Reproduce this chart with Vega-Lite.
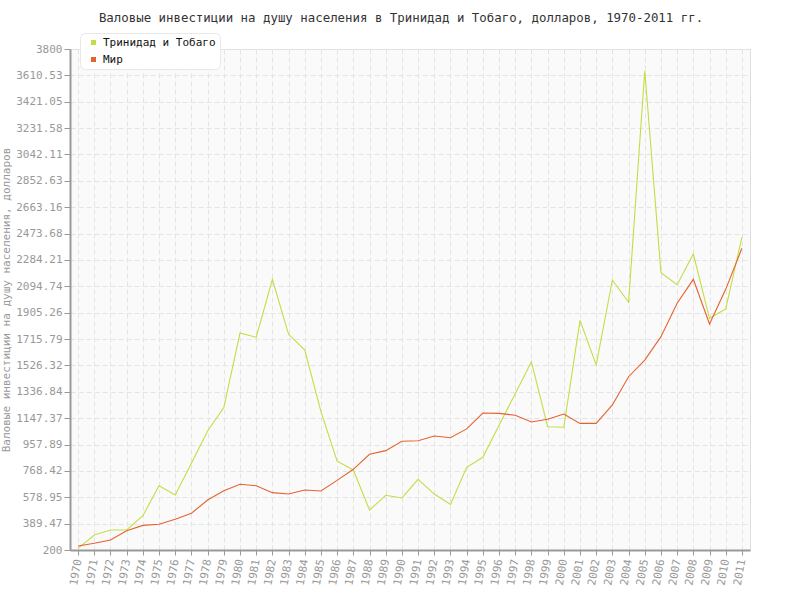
{
  "$schema": "https://vega.github.io/schema/vega-lite/v6.json",
  "autosize": "none",
  "width": 680,
  "height": 501,
  "padding": {"left": 70, "top": 49, "right": 50, "bottom": 50},
  "background": "white",
  "title": {
    "text": "Валовые инвестиции на душу населения в Тринидад и Тобаго, долларов, 1970-2011 гг.",
    "font": "DejaVu Sans Mono",
    "fontSize": 12.4,
    "fontWeight": "normal",
    "color": "#333333",
    "anchor": "middle",
    "dx": -9,
    "offset": 8
  },
  "config": {
    "view": {"fill": "#fafafa", "stroke": "#dddddd", "strokeWidth": 1},
    "axis": {
      "labelFont": "DejaVu Sans Mono",
      "labelFontSize": 11,
      "labelColor": "#999999",
      "titleFont": "DejaVu Sans Mono",
      "titleFontSize": 11,
      "titleFontWeight": "normal",
      "titleColor": "#999999",
      "domainColor": "#999999",
      "domainWidth": 2,
      "tickColor": "#999999",
      "gridColor": "#e4e4e4",
      "gridDash": [5, 3],
      "gridWidth": 1
    }
  },
  "data": {
    "values": [
      {"year": 1970, "series": "Тринидад и Тобаго", "value": 212},
      {"year": 1971, "series": "Тринидад и Тобаго", "value": 308},
      {"year": 1972, "series": "Тринидад и Тобаго", "value": 344},
      {"year": 1973, "series": "Тринидад и Тобаго", "value": 344},
      {"year": 1974, "series": "Тринидад и Тобаго", "value": 446},
      {"year": 1975, "series": "Тринидад и Тобаго", "value": 662},
      {"year": 1976, "series": "Тринидад и Тобаго", "value": 595},
      {"year": 1977, "series": "Тринидад и Тобаго", "value": 823},
      {"year": 1978, "series": "Тринидад и Тобаго", "value": 1055},
      {"year": 1979, "series": "Тринидад и Тобаго", "value": 1223},
      {"year": 1980, "series": "Тринидад и Тобаго", "value": 1759},
      {"year": 1981, "series": "Тринидад и Тобаго", "value": 1728},
      {"year": 1982, "series": "Тринидад и Тобаго", "value": 2145},
      {"year": 1983, "series": "Тринидад и Тобаго", "value": 1750},
      {"year": 1984, "series": "Тринидад и Тобаго", "value": 1637},
      {"year": 1985, "series": "Тринидад и Тобаго", "value": 1194},
      {"year": 1986, "series": "Тринидад и Тобаго", "value": 838},
      {"year": 1987, "series": "Тринидад и Тобаго", "value": 775},
      {"year": 1988, "series": "Тринидад и Тобаго", "value": 487},
      {"year": 1989, "series": "Тринидад и Тобаго", "value": 593},
      {"year": 1990, "series": "Тринидад и Тобаго", "value": 574},
      {"year": 1991, "series": "Тринидад и Тобаго", "value": 708},
      {"year": 1992, "series": "Тринидад и Тобаго", "value": 602},
      {"year": 1993, "series": "Тринидад и Тобаго", "value": 528},
      {"year": 1994, "series": "Тринидад и Тобаго", "value": 794},
      {"year": 1995, "series": "Тринидад и Тобаго", "value": 866},
      {"year": 1996, "series": "Тринидад и Тобаго", "value": 1096},
      {"year": 1997, "series": "Тринидад и Тобаго", "value": 1323},
      {"year": 1998, "series": "Тринидад и Тобаго", "value": 1553},
      {"year": 1999, "series": "Тринидад и Тобаго", "value": 1086},
      {"year": 2000, "series": "Тринидад и Тобаго", "value": 1082},
      {"year": 2001, "series": "Тринидад и Тобаго", "value": 1850},
      {"year": 2002, "series": "Тринидад и Тобаго", "value": 1529},
      {"year": 2003, "series": "Тринидад и Тобаго", "value": 2140},
      {"year": 2004, "series": "Тринидад и Тобаго", "value": 1980},
      {"year": 2005, "series": "Тринидад и Тобаго", "value": 3644},
      {"year": 2006, "series": "Тринидад и Тобаго", "value": 2193},
      {"year": 2007, "series": "Тринидад и Тобаго", "value": 2106},
      {"year": 2008, "series": "Тринидад и Тобаго", "value": 2327},
      {"year": 2009, "series": "Тринидад и Тобаго", "value": 1865},
      {"year": 2010, "series": "Тринидад и Тобаго", "value": 1932},
      {"year": 2011, "series": "Тринидад и Тобаго", "value": 2447},
      {"year": 1970, "series": "Мир", "value": 229},
      {"year": 1971, "series": "Мир", "value": 248},
      {"year": 1972, "series": "Мир", "value": 272},
      {"year": 1973, "series": "Мир", "value": 339},
      {"year": 1974, "series": "Мир", "value": 377},
      {"year": 1975, "series": "Мир", "value": 385},
      {"year": 1976, "series": "Мир", "value": 421},
      {"year": 1977, "series": "Мир", "value": 464},
      {"year": 1978, "series": "Мир", "value": 559},
      {"year": 1979, "series": "Мир", "value": 626},
      {"year": 1980, "series": "Мир", "value": 672},
      {"year": 1981, "series": "Мир", "value": 662},
      {"year": 1982, "series": "Мир", "value": 612},
      {"year": 1983, "series": "Мир", "value": 602},
      {"year": 1984, "series": "Мир", "value": 631},
      {"year": 1985, "series": "Мир", "value": 624},
      {"year": 1986, "series": "Мир", "value": 700},
      {"year": 1987, "series": "Мир", "value": 780},
      {"year": 1988, "series": "Мир", "value": 888},
      {"year": 1989, "series": "Мир", "value": 914},
      {"year": 1990, "series": "Мир", "value": 981},
      {"year": 1991, "series": "Мир", "value": 985},
      {"year": 1992, "series": "Мир", "value": 1019},
      {"year": 1993, "series": "Мир", "value": 1007},
      {"year": 1994, "series": "Мир", "value": 1070},
      {"year": 1995, "series": "Мир", "value": 1184},
      {"year": 1996, "series": "Мир", "value": 1182},
      {"year": 1997, "series": "Мир", "value": 1168},
      {"year": 1998, "series": "Мир", "value": 1120},
      {"year": 1999, "series": "Мир", "value": 1139},
      {"year": 2000, "series": "Мир", "value": 1177},
      {"year": 2001, "series": "Мир", "value": 1110},
      {"year": 2002, "series": "Мир", "value": 1110},
      {"year": 2003, "series": "Мир", "value": 1242},
      {"year": 2004, "series": "Мир", "value": 1445},
      {"year": 2005, "series": "Мир", "value": 1565},
      {"year": 2006, "series": "Мир", "value": 1733},
      {"year": 2007, "series": "Мир", "value": 1973},
      {"year": 2008, "series": "Мир", "value": 2145},
      {"year": 2009, "series": "Мир", "value": 1824},
      {"year": 2010, "series": "Мир", "value": 2073},
      {"year": 2011, "series": "Мир", "value": 2368}
    ]
  },
  "mark": {"type": "line", "strokeWidth": 1.1},
  "encoding": {
    "x": {
      "field": "year",
      "type": "ordinal",
      "scale": {"type": "point", "padding": 0.5},
      "axis": {
        "title": null,
        "labelAngle": -80,
        "grid": true,
        "tickSize": 5,
        "labelPadding": 4
      }
    },
    "y": {
      "field": "value",
      "type": "quantitative",
      "scale": {"domain": [200, 3800], "nice": false, "zero": false},
      "axis": {
        "title": "Валовые инвестиции на душу населения, долларов",
        "values": [200, 389.47, 578.95, 768.42, 957.89, 1147.37, 1336.84, 1526.32, 1715.79, 1905.26, 2094.74, 2284.21, 2473.68, 2663.16, 2852.63, 3042.11, 3231.58, 3421.05, 3610.53, 3800],
        "format": ".2~f",
        "tickSize": 6,
        "labelPadding": 2,
        "titlePadding": 4,
        "grid": true
      }
    },
    "color": {
      "field": "series",
      "type": "nominal",
      "scale": {"domain": ["Тринидад и Тобаго", "Мир"], "range": ["#c2de45", "#e5622f"]},
      "legend": {
        "title": null,
        "orient": "none",
        "legendX": 10,
        "legendY": -16,
        "fillColor": "white",
        "strokeColor": "#e8e8e8",
        "cornerRadius": 5,
        "padding": 4,
        "symbolOffset": 4,
        "symbolType": "square",
        "symbolSize": 25,
        "symbolStrokeWidth": 0,
        "labelFont": "DejaVu Sans Mono",
        "labelFontSize": 11,
        "labelColor": "#111111",
        "labelOffset": 4,
        "rowPadding": 5,
        "encode": {
          "symbols": {"update": {"fill": {"scale": "color", "field": "value"}, "fillOpacity": {"value": 1}}}
        }
      }
    }
  }
}
